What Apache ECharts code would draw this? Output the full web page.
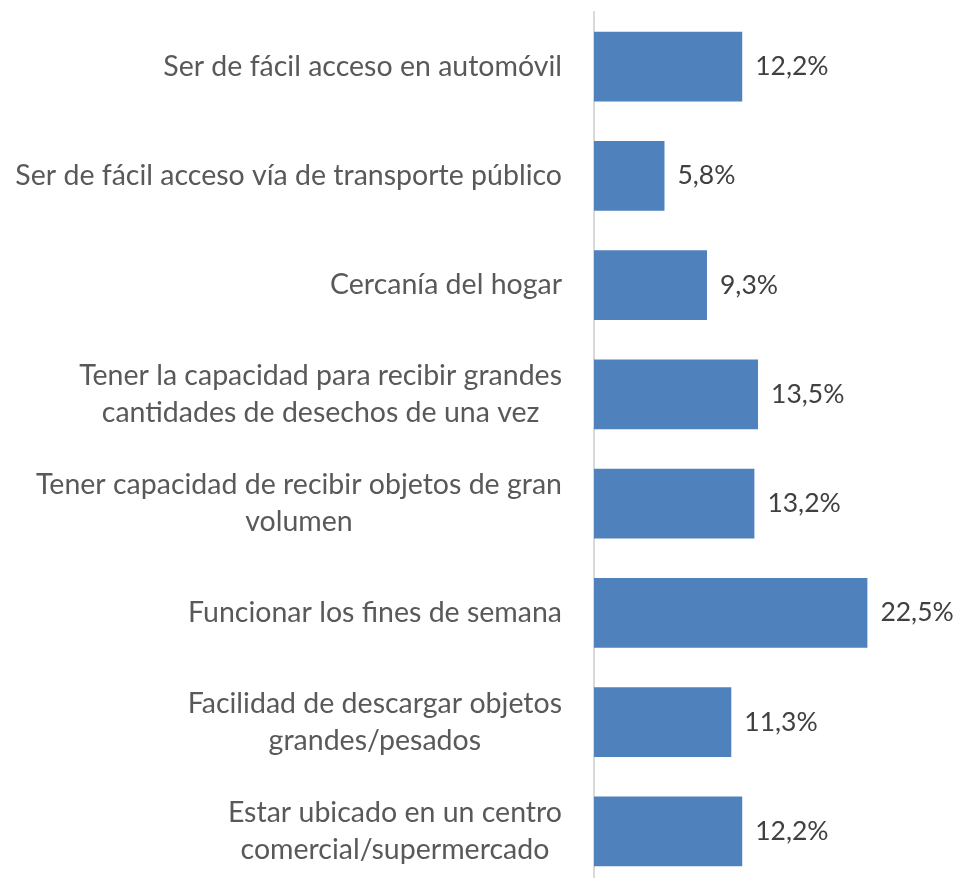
<!DOCTYPE html>
<html>
<head>
<meta charset="utf-8">
<script src="https://cdn.jsdelivr.net/npm/echarts@6/dist/echarts.min.js"></script>
<style>
html,body{margin:0;padding:0;background:#fff;}
#chart{width:963px;height:878px;}
</style>
</head>
<body>
<div id="chart"></div>
<script>
const categories = [
  "Ser de fácil acceso en automóvil",
  "Ser de fácil acceso vía de transporte público",
  "Cercanía del hogar",
  "Tener la capacidad para recibir grandes\ncantidades de desechos de una vez",
  "Tener capacidad de recibir objetos de gran\nvolumen",
  "Funcionar los fines de semana",
  "Facilidad de descargar objetos\ngrandes/pesados",
  "Estar ubicado en un centro\ncomercial/supermercado"
];
const values = [12.2, 5.8, 9.3, 13.5, 13.2, 22.5, 11.3, 12.2];

const chart = echarts.init(document.getElementById('chart'));
chart.setOption({
  animation: false,
  backgroundColor: '#ffffff',
  grid: { left: 594, right: 4.5, top: 12, height: 874, containLabel: false, outerBoundsMode: 'none' },
  xAxis: {
    type: 'value', min: 0, max: 30,
    show: false
  },
  yAxis: {
    type: 'category',
    inverse: true,
    data: categories,
    axisLine: { show: true, lineStyle: { color: '#d9d9d9', width: 2 } },
    axisTick: { show: false },
    axisLabel: {
      margin: 32,
      align: 'right',
      color: '#595959',
      fontFamily: 'Lato',
      fontSize: 28.5,
      lineHeight: 37,
      formatter: function (v) {
        return v.split('\n').map(l => '{c|' + l + '}').join('\n');
      },
      rich: { c: { align: 'center', color: '#595959', fontFamily: 'Lato', fontSize: 28.5, lineHeight: 37 } }
    }
  },
  series: [{
    type: 'bar',
    data: values,
    barCategoryGap: '36%',
    itemStyle: { color: '#4f81bd' },
    label: {
      show: true,
      position: 'right',
      distance: 13,
      color: '#404040',
      fontFamily: 'Lato',
      fontSize: 26.5,
      formatter: p => p.value.toFixed(1).replace('.', ',') + '%'
    }
  }]
});
</script>
</body>
</html>
